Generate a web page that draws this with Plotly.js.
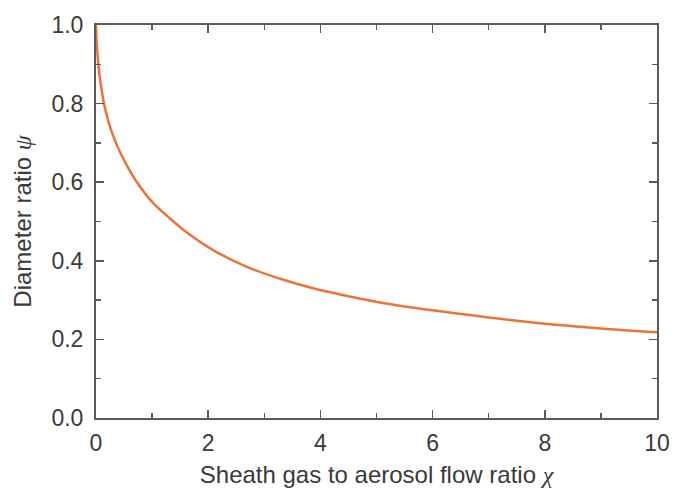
<!DOCTYPE html>
<html>
<head>
<meta charset="utf-8">
<script src="https://cdn.plot.ly/plotly-3.0.1.min.js"></script>
<style>html,body{margin:0;padding:0;background:#fff;}#chart{width:675px;height:499px;}</style>
</head>
<body>
<div id="chart"></div>
<script>
const chi = [0, 0.01, 0.03, 0.06, 0.1, 0.15, 0.24, 0.37, 0.53, 0.73, 1.0, 1.3, 1.6, 2.08, 2.68, 3.27, 3.87, 4.46, 5.06, 6, 7, 8, 9, 10];
const psi = [1.0, 0.96, 0.92, 0.875, 0.835, 0.795, 0.745, 0.695, 0.648, 0.6, 0.55, 0.51, 0.474, 0.428, 0.385, 0.355, 0.330, 0.311, 0.294, 0.274, 0.256, 0.240, 0.228, 0.218];
const xTicks = [0, 2, 4, 6, 8, 10];
const yTicks = [0, 0.2, 0.4, 0.6, 0.8, 1.0];
const yTickText = ['0.0', '0.2', '0.4', '0.6', '0.8', '1.0'];

const txtColor = '#3a3a3a';
const tickFont = {family: 'Liberation Sans, Arial, sans-serif', size: 23, color: txtColor};
const axisCommon = {
  showgrid: false, zeroline: false, showline: true, linecolor: '#5a5a5a', linewidth: 2,
  mirror: 'ticks', ticks: 'inside', ticklen: 8, tickwidth: 1.5, tickcolor: '#5a5a5a',
  tickfont: tickFont, fixedrange: true
};

Plotly.newPlot('chart', [{
  x: chi, y: psi, type: 'scatter', mode: 'lines',
  line: {color: '#ea7434', width: 2.5, shape: 'spline', smoothing: 1},
  hoverinfo: 'skip'
}], {
  width: 675, height: 499,
  margin: {l: 96, r: 18, t: 25, b: 81},
  paper_bgcolor: '#fff', plot_bgcolor: '#fff',
  showlegend: false,
  xaxis: Object.assign({}, axisCommon, {
    range: [0, 10], tickvals: xTicks, ticktext: xTicks.map(String),
    minor: {ticks: 'inside', ticklen: 5, tickwidth: 1.5, tickcolor: '#5a5a5a', dtick: 1},
    ticklabelstandoff: 3,
    title: {text: 'Sheath gas to aerosol flow ratio <i><span style="font-family:Liberation Serif, Times New Roman, serif">χ</span></i>',
            font: {family: 'Liberation Sans, Arial, sans-serif', size: 24, color: txtColor}, standoff: 12}
  }),
  yaxis: Object.assign({}, axisCommon, {
    range: [0, 1], tickvals: yTicks, ticktext: yTickText,
    minor: {ticks: 'inside', ticklen: 5, tickwidth: 1.5, tickcolor: '#5a5a5a', dtick: 0.1},
    ticklabelstandoff: 6,
    title: {text: 'Diameter ratio <i><span style="font-family:Liberation Serif, Times New Roman, serif">ψ</span></i>',
            font: {family: 'Liberation Sans, Arial, sans-serif', size: 24, color: txtColor}, standoff: 13}
  })
}, {staticPlot: true});
</script>
</body>
</html>
